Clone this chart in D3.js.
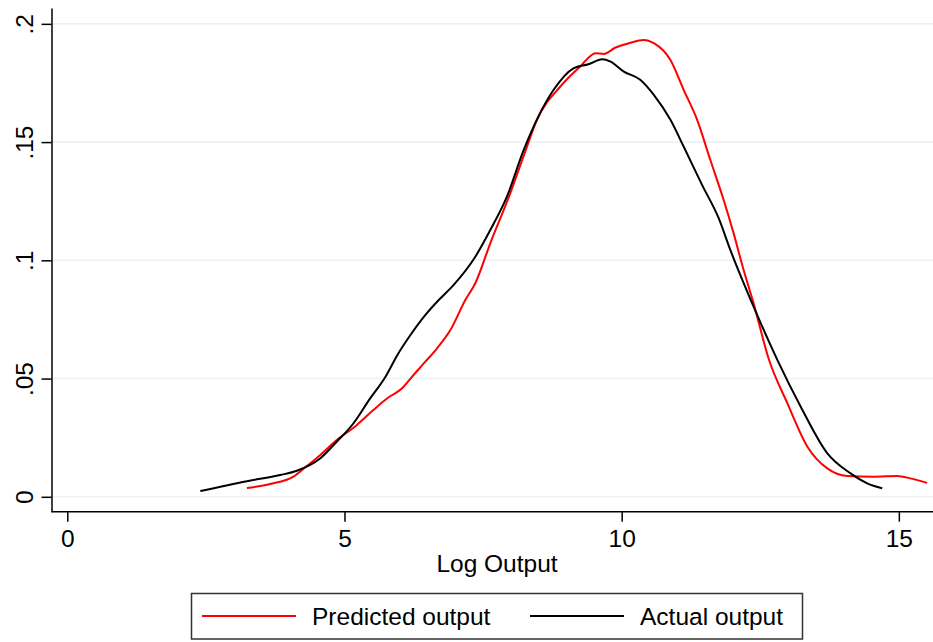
<!DOCTYPE html>
<html>
<head>
<meta charset="utf-8">
<script src="https://cdn.jsdelivr.net/npm/d3@7"></script>
<style>
  body { margin: 0; background: #fff; }
  svg { display: block; font-family: "Liberation Sans", Arial, sans-serif; }
</style>
</head>
<body>
<svg id="chart" width="933" height="642"></svg>
<script>
// kernel density estimates
const predX = [3.24, 3.66, 4.08, 4.32, 4.56, 4.86, 5.22, 5.52, 5.79, 6.04, 6.19, 6.43, 6.67, 6.91, 7.18, 7.36, 7.63, 7.99, 8.26, 8.47, 8.89, 9.25, 9.53, 9.68, 9.89, 10.13, 10.40, 10.58, 10.88, 11.12, 11.36, 11.60, 11.84, 12.02, 12.20, 12.38, 12.65, 12.99, 13.35, 13.71, 14.07, 14.55, 14.97, 15.21, 15.51];
const predY = [0.0037, 0.0054, 0.0085, 0.013, 0.0176, 0.024, 0.0303, 0.0367, 0.0420, 0.0459, 0.050, 0.0564, 0.0628, 0.0705, 0.0832, 0.0903, 0.1072, 0.1283, 0.146, 0.1593, 0.1734, 0.1819, 0.1876, 0.1873, 0.190, 0.1918, 0.1932, 0.1918, 0.1847, 0.172, 0.1595, 0.1424, 0.1255, 0.1114, 0.0959, 0.0818, 0.0585, 0.0395, 0.0212, 0.012, 0.0088, 0.0085, 0.0088, 0.0078, 0.0059];

const actX = [2.40, 3.24, 3.84, 4.14, 4.56, 4.86, 5.16, 5.46, 5.74, 5.95, 6.19, 6.46, 6.70, 6.97, 7.36, 7.63, 7.93, 8.23, 8.77, 9.13, 9.40, 9.65, 9.80, 10.04, 10.34, 10.58, 10.88, 11.12, 11.45, 11.75, 11.96, 12.38, 12.81, 13.23, 13.71, 14.13, 14.43, 14.70];
const actY = [0.0024, 0.0066, 0.0092, 0.011, 0.0162, 0.0233, 0.031, 0.0415, 0.0508, 0.0598, 0.0684, 0.0769, 0.0832, 0.0896, 0.1015, 0.1128, 0.1269, 0.1465, 0.172, 0.1812, 0.1829, 0.185, 0.184, 0.1798, 0.1763, 0.170, 0.1594, 0.148, 0.1319, 0.1178, 0.1044, 0.0804, 0.0578, 0.0381, 0.0184, 0.0099, 0.0057, 0.0036];

const xTicks = [0, 5, 10, 15];
const yTicks = [0, 0.05, 0.1, 0.15, 0.2];
const yTickLabels = ["0", ".05", ".1", ".15", ".2"];
const xTitle = "Log Output";
const seriesNames = ["Predicted output", "Actual output"];
const seriesColors = ["#ff0000", "#000000"];

const svg = d3.select("#chart");
const plot = { left: 51.5, right: 931, top: 8, bottom: 511.7 };

const x = d3.scaleLinear().domain([-0.285, 15.58]).range([plot.left, plot.right]);
const y = d3.scaleLinear().domain([-0.0063, 0.2067]).range([plot.bottom, plot.top]);

// gridlines
svg.append("g").selectAll("line").data(yTicks).join("line")
  .attr("x1", plot.left + 1).attr("x2", 933)
  .attr("y1", d => y(d)).attr("y2", d => y(d))
  .attr("stroke", "#eaf2f3").attr("stroke-width", 1.6);

// curves
const line = d3.line().x(d => x(d[0])).y(d => y(d[1])).curve(d3.curveMonotoneX);
const series = [d3.zip(predX, predY), d3.zip(actX, actY)];
svg.append("g").selectAll("path").data(series).join("path")
  .attr("d", line)
  .attr("fill", "none")
  .attr("stroke", (d, i) => seriesColors[i])
  .attr("stroke-width", 2);

// x axis
const xAxis = svg.append("g").attr("transform", `translate(0,${plot.bottom})`)
  .call(d3.axisBottom(x).tickValues(xTicks).tickFormat(d3.format("d")).tickSize(10).tickPadding(8).tickSizeOuter(0));
xAxis.select(".domain").attr("d", `M${plot.left},0H933`).attr("stroke", "#000").attr("stroke-width", 1.5);
xAxis.selectAll(".tick line").attr("stroke", "#000").attr("stroke-width", 1.5);
xAxis.selectAll(".tick text").attr("font-size", "24.5px").attr("fill", "#000").attr("font-family", "Liberation Sans, Arial, sans-serif");

// y axis
const yAxis = svg.append("g").attr("transform", `translate(${plot.left},0)`)
  .call(d3.axisLeft(y).tickValues(yTicks).tickFormat((d, i) => yTickLabels[i]).tickSize(10).tickSizeOuter(0));
yAxis.select(".domain").attr("stroke", "#000").attr("stroke-width", 1.5);
yAxis.selectAll(".tick line").attr("stroke", "#000").attr("stroke-width", 1.5);
yAxis.selectAll(".tick text")
  .attr("font-size", "24.5px").attr("fill", "#000")
  .attr("font-family", "Liberation Sans, Arial, sans-serif")
  .attr("x", null).attr("dy", null)
  .attr("text-anchor", "middle")
  .attr("transform", "translate(-18.5,0) rotate(-90)");

// axis title
svg.append("text").attr("x", 497).attr("y", 572)
  .attr("text-anchor", "middle").attr("font-size", "24.5px").text(xTitle);

// legend
const lg = svg.append("g");
lg.append("rect").attr("x", 191.5).attr("y", 593.5).attr("width", 611).attr("height", 45.5)
  .attr("fill", "#fff").attr("stroke", "#333").attr("stroke-width", 1.5);
const legendX = [202, 530];
seriesNames.forEach((name, i) => {
  lg.append("line").attr("x1", legendX[i]).attr("x2", legendX[i] + 94)
    .attr("y1", 616).attr("y2", 616)
    .attr("stroke", seriesColors[i]).attr("stroke-width", 2);
  lg.append("text").attr("x", legendX[i] + 110).attr("y", 625)
    .attr("font-size", "24.5px").text(name);
});
</script>
</body>
</html>
